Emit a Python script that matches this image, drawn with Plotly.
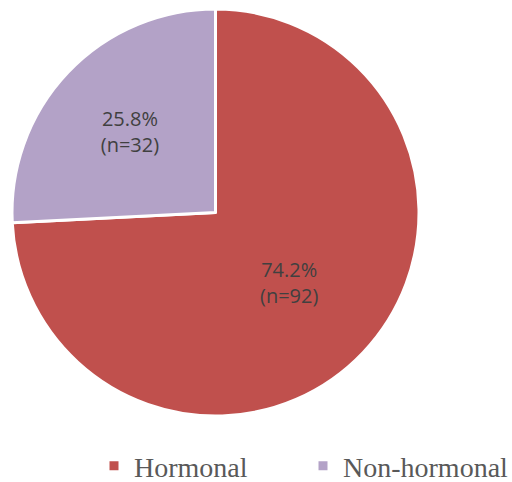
import plotly.graph_objects as go

labels = ["Hormonal", "Non-hormonal"]
counts = [92, 32]
colors = ["#C0504D", "#B3A2C7"]

W, H = 512, 482

fig = go.Figure(go.Pie(
    labels=labels,
    values=counts,
    sort=False,
    direction="clockwise",
    rotation=0,
    marker=dict(colors=colors, line=dict(color="white", width=3)),
    texttemplate="%{percent:.1%}<br>(n=%{value})",
    textposition="inside",
    insidetextorientation="horizontal",
    textfont=dict(family="Open Sans, DejaVu Sans, sans-serif", size=20, color="#404040"),
    domain=dict(x=[12 / W, 419 / W], y=[1 - 417 / H, 1 - 8 / H]),
    hoverinfo="label+value+percent",
))

fig.update_layout(
    width=W, height=H,
    margin=dict(l=0, r=0, t=0, b=0, autoexpand=False),
    paper_bgcolor="white",
    plot_bgcolor="white",
    showlegend=True,
    legend=dict(
        orientation="h",
        x=94 / W, xanchor="left",
        y=16 / H, yanchor="middle",
        font=dict(family="Liberation Serif, Times New Roman, serif", size=28, color="#595959"),
        entrywidth=164,
        entrywidthmode="pixels",
        itemclick=False,
    ),
)

fig.write_html(
    "out.html",
    config={"displayModeBar": False},
    post_script="document.body.style.margin='0';document.body.style.padding='0';",
)
